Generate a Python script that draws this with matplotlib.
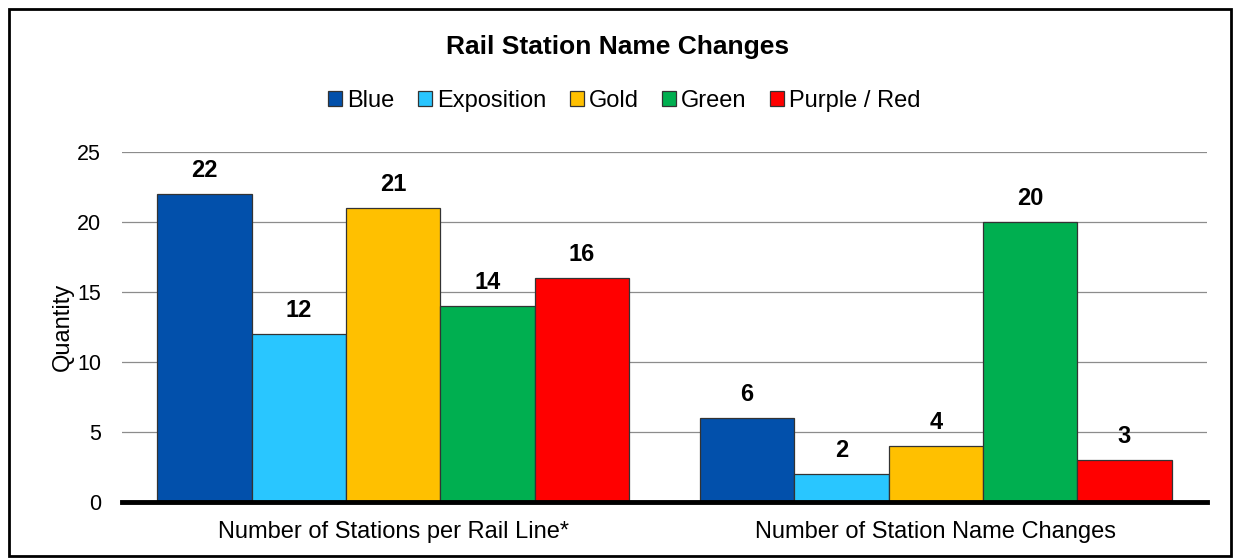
import numpy as np
import matplotlib.pyplot as plt
from matplotlib.patches import Rectangle

plt.rcParams['font.family'] = ['Liberation Sans', 'DejaVu Sans']

categories = ["Number of Stations per Rail Line*", "Number of Station Name Changes"]
lines = ["Blue", "Exposition", "Gold", "Green", "Purple / Red"]
colors = ["#0250AB", "#29C6FF", "#FFC000", "#00AF50", "#FF0000"]
values = {
    "Blue": [22, 6],
    "Exposition": [12, 2],
    "Gold": [21, 4],
    "Green": [14, 20],
    "Purple / Red": [16, 3],
}

fig = plt.figure(figsize=(12.35, 5.58), dpi=100)
ax = fig.add_axes([0.0988, 0.1004, 0.8785, 0.6272])

x = np.arange(len(categories))
w = 0.174
for i, (name, col) in enumerate(zip(lines, colors)):
    pos = x + (i - 2) * w
    bars = ax.bar(pos, values[name], w, color=col, edgecolor="#333333", linewidth=0.9, label=name, zorder=3)
    for b, v in zip(bars, values[name]):
        ax.text(b.get_x() + b.get_width() / 2, v + 1.2, str(v), ha="center", va="baseline",
                fontsize=17, fontweight="bold")

ax.set_xlim(-0.5, 1.5)
ax.set_ylim(0, 25)
ax.set_yticks([0, 5, 10, 15, 20, 25])
ax.set_xticks(x)
ax.set_xticklabels(categories)
ax.tick_params(axis="x", length=0, labelsize=17, pad=14)
ax.tick_params(axis="y", length=0, labelsize=15.5, pad=15)
ax.grid(axis="y", color="#8c8c8c", linewidth=0.9, zorder=0)
for s in ["top", "right", "left"]:
    ax.spines[s].set_visible(False)
ax.spines["bottom"].set_linewidth(3.5)
ax.spines["bottom"].set_zorder(4)
ax.set_ylabel("Quantity", fontsize=17, labelpad=2)

fig.text(0.5, 0.916, "Rail Station Name Changes", ha="center", va="center",
         fontsize=19, fontweight="bold")
ax.legend(loc="center", bbox_to_anchor=(0.463, 1.146), ncol=5, frameon=False,
          fontsize=17, handlelength=0.6, handleheight=0.6, handletextpad=0.2, columnspacing=1.0)

fig.patches.append(Rectangle((0.0073, 0.004), 0.9895, 0.98, transform=fig.transFigure,
                             fill=False, edgecolor="black", linewidth=2))

fig.savefig("out.png", dpi=100)
